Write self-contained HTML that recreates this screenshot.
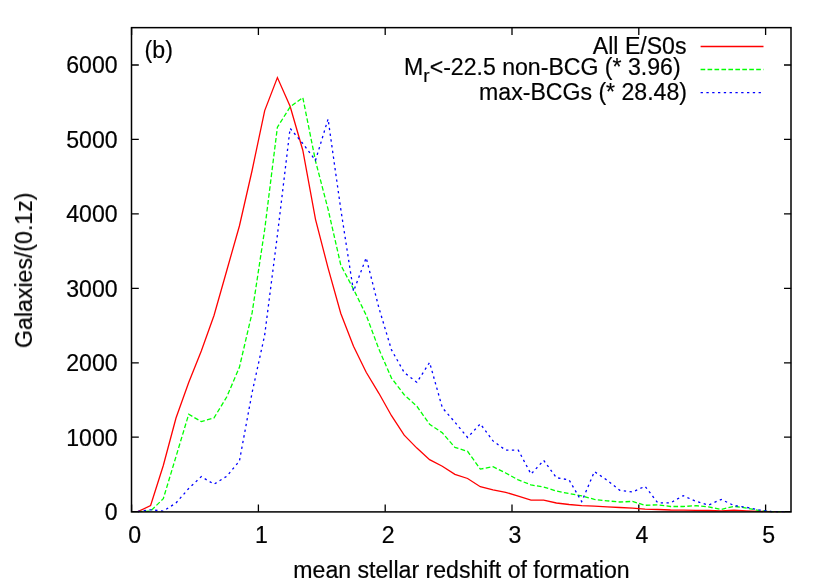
<!DOCTYPE html>
<html><head><meta charset="utf-8"><style>
html,body{margin:0;padding:0;background:#fff}
svg{display:block}
text{font-family:"Liberation Sans",sans-serif;font-size:23.1px;fill:#000;font-kerning:none;stroke:#000;stroke-width:0.2px}
</style></head><body>
<svg width="830" height="581" viewBox="0 0 830 581">
<rect width="830" height="581" fill="#fff"/>
<g fill="none" stroke="#000" stroke-width="1.3">
<path d="M131.6,511.7 V504.5 M131.6,27.8 V35.0"/><path d="M258.4,511.7 V504.5 M258.4,27.8 V35.0"/><path d="M385.2,511.7 V504.5 M385.2,27.8 V35.0"/><path d="M512.0,511.7 V504.5 M512.0,27.8 V35.0"/><path d="M638.8,511.7 V504.5 M638.8,27.8 V35.0"/><path d="M765.6,511.7 V504.5 M765.6,27.8 V35.0"/><path d="M131.6,511.7 H138.79999999999998 M791.2,511.7 H784.0"/><path d="M131.6,437.2 H138.79999999999998 M791.2,437.2 H784.0"/><path d="M131.6,362.8 H138.79999999999998 M791.2,362.8 H784.0"/><path d="M131.6,288.4 H138.79999999999998 M791.2,288.4 H784.0"/><path d="M131.6,213.9 H138.79999999999998 M791.2,213.9 H784.0"/><path d="M131.6,139.4 H138.79999999999998 M791.2,139.4 H784.0"/><path d="M131.6,65.0 H138.79999999999998 M791.2,65.0 H784.0"/>
</g>
<g fill="none" stroke-width="1.3" stroke-linejoin="miter">
<path d="M137.9,511.7 L150.6,505.5 L163.3,465.5 L176.0,418.0 L188.7,382.5 L201.3,350.9 L214.0,315.5 L226.7,270.7 L239.4,226.0 L252.1,170.5 L264.7,110.6 L277.4,77.6 L290.1,106.2 L302.8,150.2 L315.5,219.3 L328.1,268.2 L340.8,313.5 L353.5,346.3 L366.2,372.3 L378.9,393.3 L391.5,415.7 L404.2,435.2 L416.9,448.1 L429.6,459.7 L442.3,466.2 L454.9,474.4 L467.6,478.5 L480.3,486.7 L493.0,489.8 L505.7,492.3 L518.3,496.2 L531.0,500.1 L543.7,500.1 L556.4,503.0 L569.1,504.5 L581.7,505.6 L594.4,506.2 L607.1,506.9 L619.8,507.5 L632.5,508.1 L645.1,509.1 L657.8,509.5 L670.5,510.0 L683.2,510.1 L695.9,510.3 L708.5,510.5 L721.2,510.9 L733.9,510.2 L746.6,510.9 L759.3,511.4 L771.9,511.7 L784.6,511.7" stroke="#ff0000"/>
<path d="M137.9,511.7 L150.6,511.0 L163.3,498.7 L176.0,456.6 L188.7,414.3 L201.3,421.6 L214.0,417.9 L226.7,397.0 L239.4,367.3 L252.1,312.9 L264.7,229.5 L277.4,127.2 L290.1,107.0 L302.8,97.5 L315.5,161.0 L328.1,209.3 L340.8,265.1 L353.5,289.1 L366.2,315.2 L378.9,349.2 L391.5,378.1 L404.2,394.7 L416.9,406.3 L429.6,424.3 L442.3,432.8 L454.9,447.4 L467.6,451.3 L480.3,469.1 L493.0,466.7 L505.7,473.0 L518.3,479.9 L531.0,484.9 L543.7,487.1 L556.4,491.0 L569.1,493.6 L581.7,495.8 L594.4,499.4 L607.1,500.8 L619.8,502.0 L632.5,501.4 L645.1,505.3 L657.8,504.8 L670.5,506.5 L683.2,506.5 L695.9,505.7 L708.5,506.9 L721.2,509.5 L733.9,506.3 L746.6,508.1 L759.3,510.6 L771.9,511.7 L784.6,511.7" stroke="#00ff00" stroke-dasharray="4.63 2.32"/>
<path d="M137.9,511.5 L150.6,509.8 L163.3,511.1 L176.0,503.0 L188.7,488.5 L201.3,476.6 L214.0,484.2 L226.7,476.3 L239.4,461.1 L252.1,392.6 L264.7,335.0 L277.4,235.1 L290.1,128.3 L302.8,143.5 L315.5,160.4 L328.1,119.0 L340.8,209.4 L353.5,291.3 L366.2,257.8 L378.9,307.9 L391.5,349.9 L404.2,372.5 L416.9,382.4 L429.6,362.4 L442.3,407.7 L454.9,422.2 L467.6,437.5 L480.3,423.8 L493.0,440.9 L505.7,450.2 L518.3,450.2 L531.0,474.1 L543.7,460.4 L556.4,477.7 L569.1,479.9 L581.7,501.6 L594.4,471.6 L607.1,480.2 L619.8,490.3 L632.5,492.0 L645.1,486.3 L657.8,502.9 L670.5,502.9 L683.2,495.7 L695.9,501.3 L708.5,505.1 L721.2,499.4 L733.9,505.5 L746.6,507.4 L759.3,509.9 L771.9,511.7 L784.6,511.7" stroke="#0000ff" stroke-dasharray="2.32 3.48"/>
<path d="M700.6,46.5 H763.5" stroke="#ff0000"/>
<path d="M700.6,69.5 H763.5" stroke="#00ff00" stroke-dasharray="4.63 2.32"/>
<path d="M700.6,92.6 H763.5" stroke="#0000ff" stroke-dasharray="2.32 3.48"/>
</g>
<rect x="131.5" y="27.65" width="659.5" height="484.25" fill="none" stroke="#000" stroke-width="1.5"/>
<g opacity="0.999">
<text x="134.6" y="543.4" text-anchor="middle">0</text><text x="261.4" y="543.4" text-anchor="middle">1</text><text x="388.2" y="543.4" text-anchor="middle">2</text><text x="515.0" y="543.4" text-anchor="middle">3</text><text x="641.8" y="543.4" text-anchor="middle">4</text><text x="768.6" y="543.4" text-anchor="middle">5</text>
<text x="117.6" y="520.0" text-anchor="end">0</text><text x="117.6" y="445.6" text-anchor="end">1000</text><text x="117.6" y="371.1" text-anchor="end">2000</text><text x="117.6" y="296.7" text-anchor="end">3000</text><text x="117.6" y="222.2" text-anchor="end">4000</text><text x="117.6" y="147.8" text-anchor="end">5000</text><text x="117.6" y="73.3" text-anchor="end">6000</text>
<text x="144.6" y="57.5" font-size="21.5">(b)</text>
<text x="686.5" y="53.8" text-anchor="end">All E/S0s</text>
<text x="680.6" y="75.2" text-anchor="end">M<tspan font-size="19" dy="6.5">r</tspan><tspan dy="-6.5">&lt;-22.5 non-BCG (* 3.96)</tspan></text>
<text x="687.0" y="100.0" text-anchor="end">max-BCGs (* 28.48)</text>
<text x="461.5" y="577.8" text-anchor="middle">mean stellar redshift of formation</text>
<text transform="translate(32.0,270.3) rotate(-90)" text-anchor="middle">Galaxies/(0.1z)</text>
</g>
</svg>
</body></html>
